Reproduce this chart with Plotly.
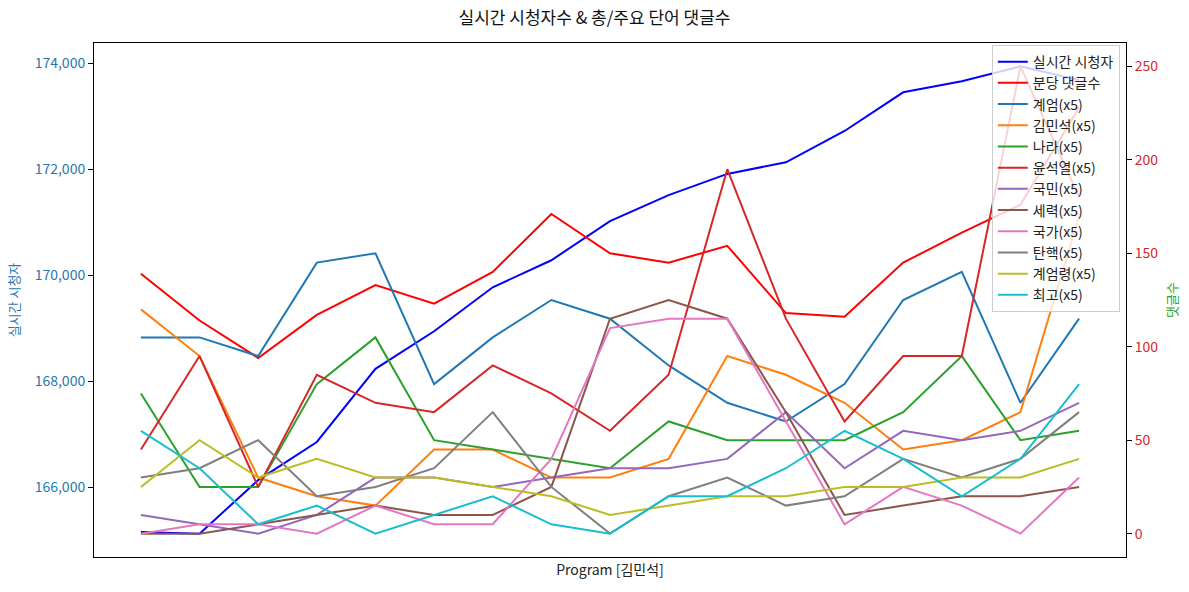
import plotly.graph_objects as go

# ---- data ----
x_idx = list(range(17))

viewers = [165150, 165120, 166130, 166850, 168230, 168940, 169770, 170280,
           171020, 171510, 171910, 172130, 172720, 173450, 173660, 173940, 173680]
comments_per_min = [139, 114, 94, 117, 133, 123, 140, 171, 150, 145, 154,
                    118, 116, 145, 161, 176, 228]

kw_names = ["계엄(x5)", "김민석(x5)", "나라(x5)", "윤석열(x5)", "국민(x5)", "세력(x5)",
            "국가(x5)", "탄핵(x5)", "계엄령(x5)", "최고(x5)"]
kw_gyeeom = [105, 105, 95, 145, 150, 80, 105, 125, 115, 90, 70, 60, 80, 125, 140, 70, 115]
kw_kimminseok = [120, 95, 30, 20, 15, 45, 45, 30, 30, 40, 95, 85, 70, 45, 50, 65, 170]
kw_nara = [75, 25, 25, 80, 105, 50, 45, 40, 35, 60, 50, 50, 50, 65, 95, 50, 55]
kw_yoon = [45, 95, 25, 85, 70, 65, 90, 75, 55, 85, 195, 115, 60, 95, 95, 250, 180]
kw_gukmin = [10, 5, 0, 10, 30, 30, 25, 30, 35, 35, 40, 65, 35, 55, 50, 55, 70]
kw_seryeok = [0, 0, 5, 10, 15, 10, 10, 25, 115, 125, 115, 65, 10, 15, 20, 20, 25]
kw_gukga = [0, 5, 5, 0, 15, 5, 5, 40, 110, 115, 115, 60, 5, 25, 15, 0, 30]
kw_tanhaek = [30, 35, 50, 20, 25, 35, 65, 25, 0, 20, 30, 15, 20, 40, 30, 40, 65]
kw_gyeeomryeong = [25, 50, 30, 40, 30, 30, 25, 20, 10, 15, 20, 20, 25, 25, 30, 30, 40]
kw_choego = [55, 35, 5, 15, 0, 10, 20, 5, 0, 20, 20, 35, 55, 40, 20, 40, 80]

kw_values = [kw_gyeeom, kw_kimminseok, kw_nara, kw_yoon, kw_gukmin, kw_seryeok,
             kw_gukga, kw_tanhaek, kw_gyeeomryeong, kw_choego]
kw_colors = ["#1f77b4", "#ff7f0e", "#2ca02c", "#d62728", "#9467bd", "#8c564b",
             "#e377c2", "#7f7f7f", "#bcbd22", "#17becf"]

FONT = "Noto Sans CJK KR"

fig = go.Figure()
fig.add_trace(go.Scatter(x=x_idx, y=viewers, mode="lines", name="실시간 시청자",
                         line=dict(color="blue", width=2), yaxis="y",
                         legendgroup="g0"))
fig.add_trace(go.Scatter(x=x_idx, y=comments_per_min, mode="lines", name="분당 댓글수",
                         line=dict(color="red", width=2), yaxis="y2",
                         legendgroup="g1"))
for i, (nm, vals, col) in enumerate(zip(kw_names, kw_values, kw_colors)):
    fig.add_trace(go.Scatter(x=x_idx, y=vals, mode="lines", name=nm,
                             line=dict(color=col, width=2), yaxis="y2",
                             legendgroup=f"g{i+2}"))

def padded(lo, hi, frac=0.05):
    d = (hi - lo) * frac
    return [lo - d, hi + d]

n = len(x_idx)
all_kw = [v for s in kw_values for v in s] + comments_per_min

fig.update_layout(
    width=1189, height=592,
    margin=dict(l=94, r=63, t=43, b=35),
    paper_bgcolor="white", plot_bgcolor="white",
    font=dict(family=FONT, size=14, color="#222"),
    title=dict(text="실시간 시청자수 & 총/주요 단어 댓글수", x=0.5, xref="container",
               xanchor="center", y=1 - 18 / 592, yref="container", yanchor="middle",
               font=dict(size=17, color="#111")),
    xaxis=dict(range=padded(0, n - 1), showticklabels=False, ticks="",
               showgrid=False, zeroline=False, showline=True, linecolor="black",
               linewidth=1, mirror=True,
               title=dict(text="Program [김민석]", standoff=8,
                          font=dict(size=14, color="#222"))),
    yaxis=dict(range=padded(min(viewers), max(viewers)), dtick=2000,
               tickformat=",d", showgrid=False, zeroline=False,
               showline=True, linecolor="black", linewidth=1,
               ticks="outside", ticklen=5, tickcolor="black",
               tickfont=dict(color="#1f77b4", size=14),
               title=dict(text="실시간 시청자", font=dict(color="#1f77b4", size=13),
                          standoff=12)),
    yaxis2=dict(range=padded(min(all_kw), max(all_kw)), dtick=50,
                overlaying="y", side="right", showgrid=False, zeroline=False,
                showline=True, linecolor="black", linewidth=1,
                ticks="outside", ticklen=5, tickcolor="black",
                tickfont=dict(color="#d62728", size=14),
                title=dict(text="댓글수", font=dict(color="#2ca02c", size=13),
                           standoff=10)),
    legend=dict(x=0.994, y=0.996, xanchor="right", yanchor="top",
                bgcolor="rgba(255,255,255,0.8)", bordercolor="#cccccc",
                borderwidth=1, font=dict(size=14, color="#222"),
                traceorder="grouped", tracegroupgap=0),
    showlegend=True,
)

fig.write_html("out.html")
